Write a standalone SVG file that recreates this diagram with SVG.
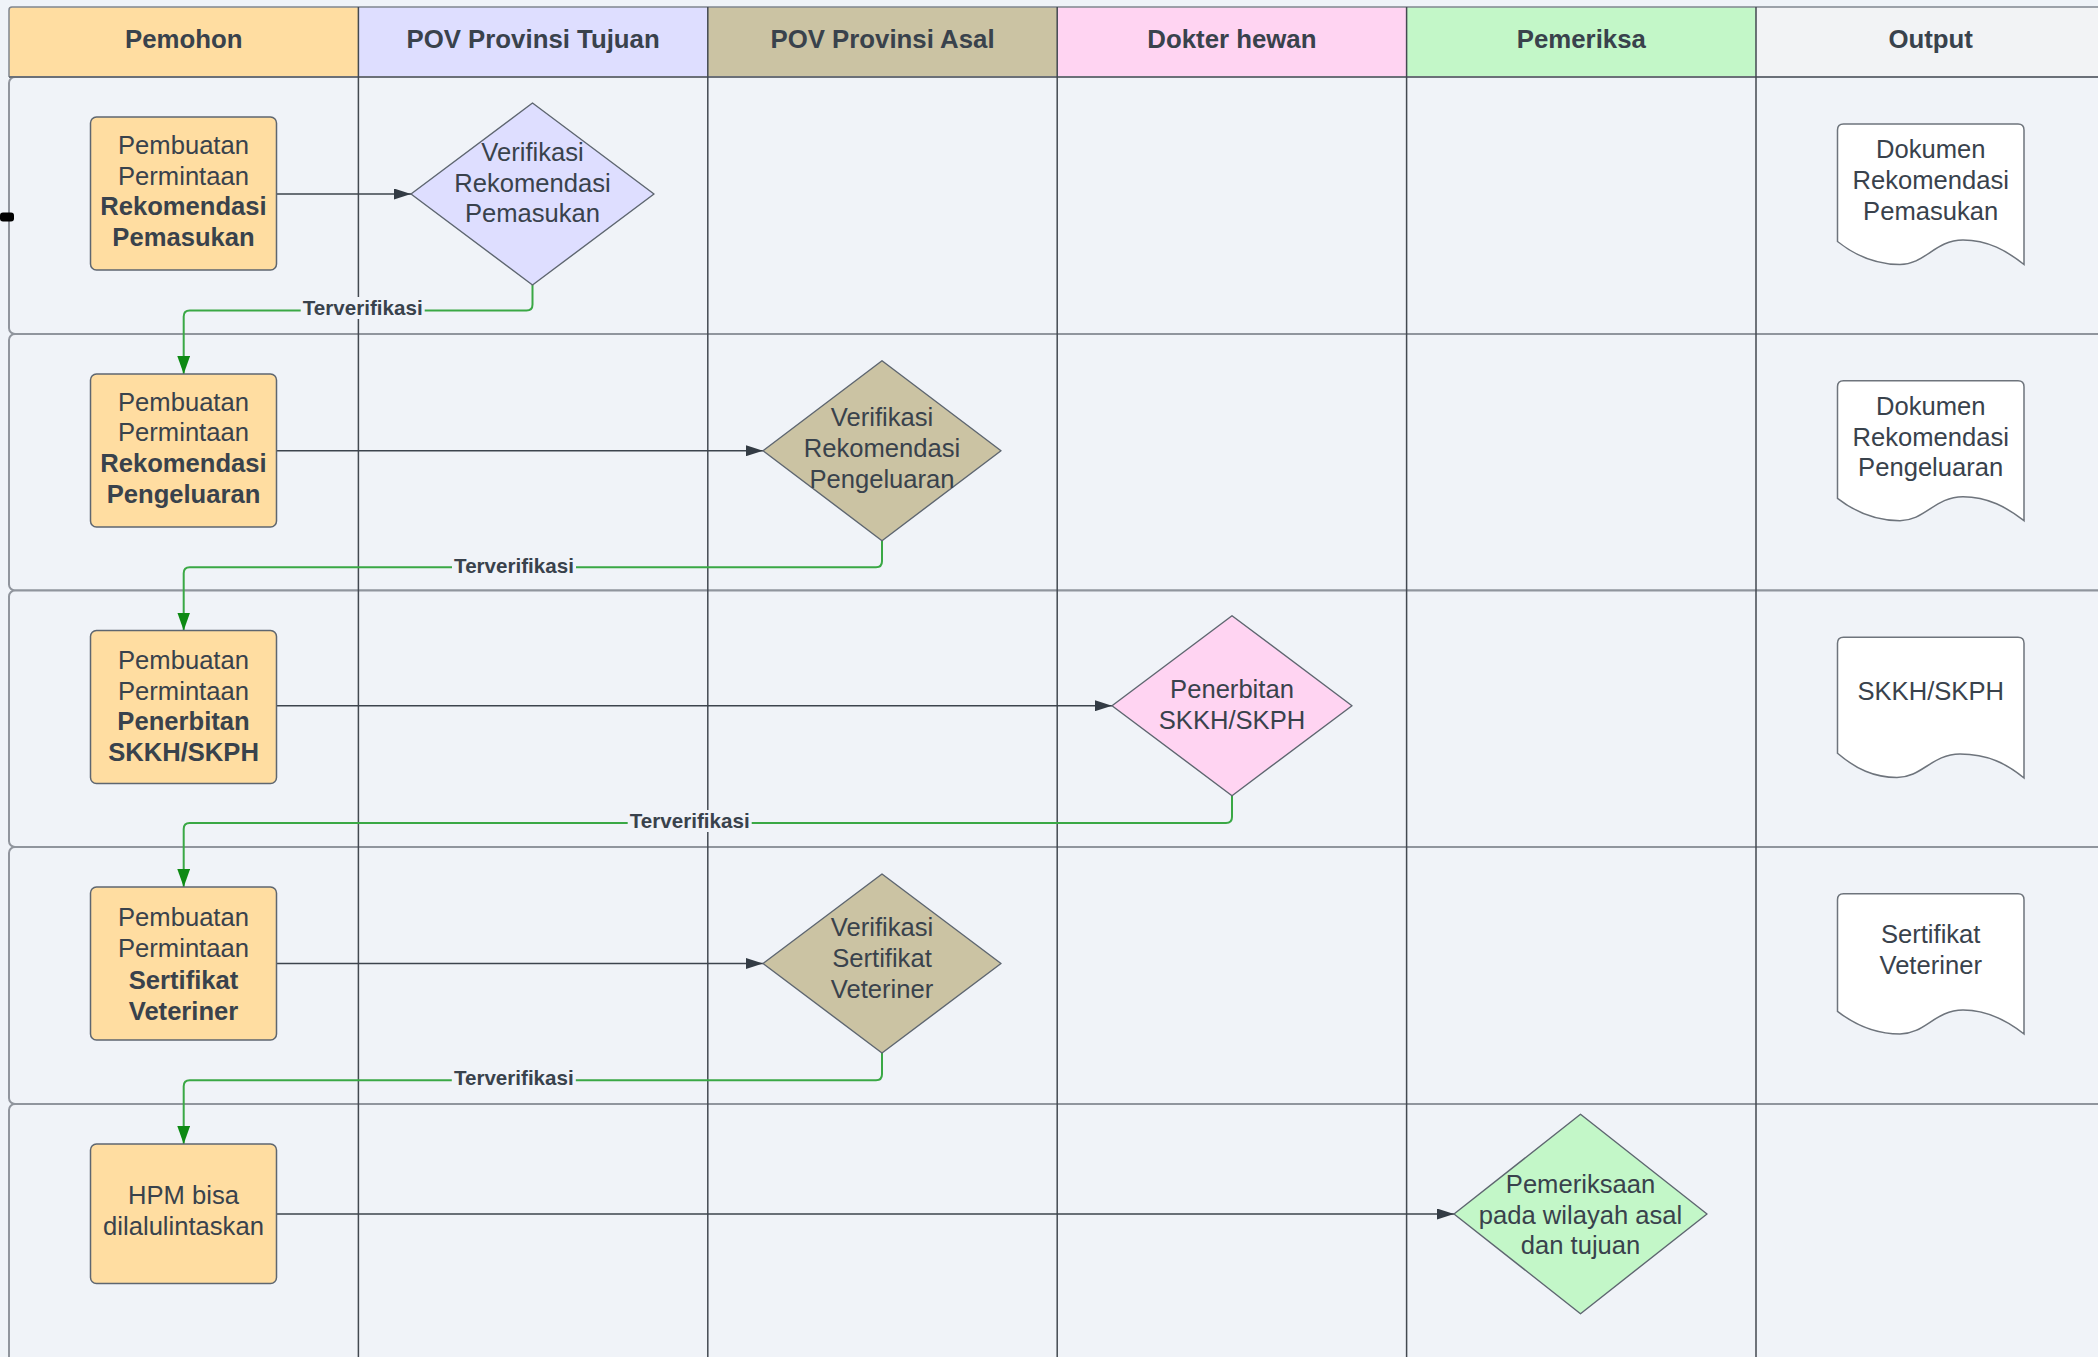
<svg xmlns="http://www.w3.org/2000/svg" width="2098" height="1357" viewBox="0 0 2098 1357">
<style>
  text { font-family: "Liberation Sans", Arial, sans-serif; fill: #39424C; text-anchor: middle; }
  .hdr { font-size: 25.8px; font-weight: bold; }
  .t { font-size: 25.6px; }
  .b { font-weight: bold; }
  .lbl { font-size: 20.6px; font-weight: bold; }
  .lane { fill: #F0F3F8; stroke: #90959D; stroke-width: 2; }
  .div { stroke: #434951; stroke-width: 1.5; fill: none; }
  .proc { fill: #FFDDA1; stroke: #5E6670; stroke-width: 1.5; }
  .dia { stroke: #5E6670; stroke-width: 1.4; stroke-linejoin: round; }
  .doc { fill: #FFFFFF; stroke: #6E747C; stroke-width: 1.5; }
  .flow { stroke: #3D444D; stroke-width: 1.4; fill: none; }
  .ok { stroke: #3AA845; stroke-width: 2; fill: none; }
  .lblbg { fill: #F0F3F8; }
</style>
<defs>
  <marker id="arrDark" markerUnits="userSpaceOnUse" markerWidth="17" markerHeight="11" refX="17" refY="5.5" orient="auto">
    <path d="M0,0 L17,5.5 L0,11 z" fill="#333B44"/>
  </marker>
  <marker id="arrGreen" markerUnits="userSpaceOnUse" markerWidth="18" markerHeight="13" refX="18" refY="6.4" orient="auto">
    <path d="M0,0 L18,6.4 L0,12.8 z" fill="#0E8A14"/>
  </marker>
</defs>

<rect x="0" y="0" width="2098" height="1357" fill="#EFF3F8"/>

<g id="lanes">
  <rect class="lane" x="9" y="77" width="2200" height="257" rx="6"/>
  <rect class="lane" x="9" y="334" width="2200" height="256.5" rx="6"/>
  <rect class="lane" x="9" y="590.5" width="2200" height="256.5" rx="6"/>
  <rect class="lane" x="9" y="847" width="2200" height="257" rx="6"/>
  <rect class="lane" x="9" y="1104" width="2200" height="300" rx="6"/>
</g>

<g id="header">
  <rect x="9" y="7" width="349.4" height="70" fill="#FFDDA1"/>
  <rect x="358.4" y="7" width="349.4" height="70" fill="#DEDEFF"/>
  <rect x="707.8" y="7" width="349.4" height="70" fill="#CBC3A3"/>
  <rect x="1057.2" y="7" width="349.4" height="70" fill="#FFD4F2"/>
  <rect x="1406.6" y="7" width="349.4" height="70" fill="#C3F7C8"/>
  <rect x="1756" y="7" width="360" height="70" fill="#F2F3F5"/>
  <path d="M9,77 V10 Q9,7 12,7 H2098" fill="none" stroke="#80868E" stroke-width="1.5"/>
  <line x1="9" y1="77" x2="2098" y2="77" stroke="#6B7078" stroke-width="2"/>
  <text class="hdr" x="183.7" y="48">Pemohon</text>
  <text class="hdr" x="533.1" y="48">POV Provinsi Tujuan</text>
  <text class="hdr" x="882.5" y="48">POV Provinsi Asal</text>
  <text class="hdr" x="1231.9" y="48">Dokter hewan</text>
  <text class="hdr" x="1581.3" y="48">Pemeriksa</text>
  <text class="hdr" x="1930.7" y="48">Output</text>
</g>

<g id="dividers">
  <line class="div" x1="358.4" y1="7" x2="358.4" y2="1357"/>
  <line class="div" x1="707.8" y1="7" x2="707.8" y2="1357"/>
  <line class="div" x1="1057.2" y1="7" x2="1057.2" y2="1357"/>
  <line class="div" x1="1406.6" y1="7" x2="1406.6" y2="1357"/>
  <line class="div" x1="1756" y1="7" x2="1756" y2="1357"/>
</g>

<rect x="0" y="212.5" width="14" height="9" rx="3" fill="#000000"/>

<g id="connectors">
  <line class="flow" x1="276.5" y1="194" x2="411" y2="194" marker-end="url(#arrDark)"/>
  <line class="flow" x1="276.5" y1="450.7" x2="763" y2="450.7" marker-end="url(#arrDark)"/>
  <line class="flow" x1="276.5" y1="705.7" x2="1112" y2="705.7" marker-end="url(#arrDark)"/>
  <line class="flow" x1="276.5" y1="963.5" x2="763" y2="963.5" marker-end="url(#arrDark)"/>
  <line class="flow" x1="276.5" y1="1214" x2="1454" y2="1214" marker-end="url(#arrDark)"/>

  <path class="ok" d="M532.5,285 V304.5 Q532.5,310.5 526.5,310.5 H189.7 Q183.7,310.5 183.7,316.5 V374" marker-end="url(#arrGreen)"/>
  <path class="ok" d="M882,540.7 V561.3 Q882,567.3 876,567.3 H189.7 Q183.7,567.3 183.7,573.3 V630.5" marker-end="url(#arrGreen)"/>
  <path class="ok" d="M1232,795.7 V817 Q1232,823 1226,823 H189.7 Q183.7,823 183.7,829 V887" marker-end="url(#arrGreen)"/>
  <path class="ok" d="M882,1053 V1074.3 Q882,1080.3 876,1080.3 H189.7 Q183.7,1080.3 183.7,1086.3 V1144" marker-end="url(#arrGreen)"/>

  <rect class="lblbg" x="300.7" y="297" width="124" height="22"/>
  <text class="lbl" x="362.7" y="315">Terverifikasi</text>
  <rect class="lblbg" x="452" y="554.5" width="124" height="22"/>
  <text class="lbl" x="514" y="572.8">Terverifikasi</text>
  <rect class="lblbg" x="627.7" y="810" width="124" height="22"/>
  <text class="lbl" x="689.7" y="828.3">Terverifikasi</text>
  <rect class="lblbg" x="451.8" y="1067" width="124" height="22"/>
  <text class="lbl" x="513.8" y="1085">Terverifikasi</text>
</g>

<g id="p1">
  <rect class="proc" x="90.5" y="117" width="186" height="153" rx="6"/>
  <text class="t" x="183.5" y="154">Pembuatan</text>
  <text class="t" x="183.5" y="184.5">Permintaan</text>
  <text class="t b" x="183.5" y="215">Rekomendasi</text>
  <text class="t b" x="183.5" y="245.5">Pemasukan</text>
</g>
<g id="d1">
  <polygon class="dia" fill="#DEDEFF" points="532.5,103 654,194 532.5,285 411,194"/>
  <text class="t" x="532.5" y="160.8">Verifikasi</text>
  <text class="t" x="532.5" y="191.8">Rekomendasi</text>
  <text class="t" x="532.5" y="222.4">Pemasukan</text>
</g>
<g id="o1">
  <path class="doc" d="M1837.5,130 Q1837.5,124 1843.5,124 H2018 Q2024,124 2024,130 V264.5 C2007,251 1988,240 1963,240 C1935,240 1925,264.5 1900,264.5 C1877,264.5 1857,257 1837.5,241.5 Z"/>
  <text class="t" x="1930.7" y="158">Dokumen</text>
  <text class="t" x="1930.7" y="189">Rekomendasi</text>
  <text class="t" x="1930.7" y="219.5">Pemasukan</text>
</g>

<g id="p2">
  <rect class="proc" x="90.5" y="374" width="186" height="153" rx="6"/>
  <text class="t" x="183.5" y="410.5">Pembuatan</text>
  <text class="t" x="183.5" y="441">Permintaan</text>
  <text class="t b" x="183.5" y="472">Rekomendasi</text>
  <text class="t b" x="183.5" y="502.5">Pengeluaran</text>
</g>
<g id="d2">
  <polygon class="dia" fill="#CBC3A3" points="882,360.7 1001,450.7 882,540.7 763,450.7"/>
  <text class="t" x="882" y="425.8">Verifikasi</text>
  <text class="t" x="882" y="457">Rekomendasi</text>
  <text class="t" x="882" y="488">Pengeluaran</text>
</g>
<g id="o2">
  <path class="doc" d="M1837.5,386.7 Q1837.5,380.7 1843.5,380.7 H2018 Q2024,380.7 2024,386.7 V520.7 C2007,507.5 1988,496.7 1963,496.7 C1935,496.7 1925,520.7 1900,520.7 C1877,520.7 1857,513.5 1837.5,498.3 Z"/>
  <text class="t" x="1930.7" y="415">Dokumen</text>
  <text class="t" x="1930.7" y="445.7">Rekomendasi</text>
  <text class="t" x="1930.7" y="476">Pengeluaran</text>
</g>

<g id="p3">
  <rect class="proc" x="90.5" y="630.5" width="186" height="153" rx="6"/>
  <text class="t" x="183.5" y="669">Pembuatan</text>
  <text class="t" x="183.5" y="699.5">Permintaan</text>
  <text class="t b" x="183.5" y="730">Penerbitan</text>
  <text class="t b" x="183.5" y="760.5">SKKH/SKPH</text>
</g>
<g id="d3">
  <polygon class="dia" fill="#FFD4F2" points="1232,615.7 1352,705.7 1232,795.7 1112,705.7"/>
  <text class="t" x="1232" y="698.4">Penerbitan</text>
  <text class="t" x="1232" y="729.1">SKKH/SKPH</text>
</g>
<g id="o3">
  <path class="doc" d="M1837.5,643.3 Q1837.5,637.3 1843.5,637.3 H2018 Q2024,637.3 2024,643.3 V778 C2007,764 1988,754 1960,754 C1932,754 1922,777.5 1897,777.5 C1874,777.5 1856,769 1837.5,753.3 Z"/>
  <text class="t" x="1930.7" y="700">SKKH/SKPH</text>
</g>

<g id="p4">
  <rect class="proc" x="90.5" y="887" width="186" height="153" rx="6"/>
  <text class="t" x="183.5" y="926.4">Pembuatan</text>
  <text class="t" x="183.5" y="957.4">Permintaan</text>
  <text class="t b" x="183.5" y="988.6">Sertifikat</text>
  <text class="t b" x="183.5" y="1019.5">Veteriner</text>
</g>
<g id="d4">
  <polygon class="dia" fill="#CBC3A3" points="882,874 1001,963.5 882,1053 763,963.5"/>
  <text class="t" x="882" y="935.8">Verifikasi</text>
  <text class="t" x="882" y="967.4">Sertifikat</text>
  <text class="t" x="882" y="998.2">Veteriner</text>
</g>
<g id="o4">
  <path class="doc" d="M1837.5,899.8 Q1837.5,893.8 1843.5,893.8 H2018 Q2024,893.8 2024,899.8 V1034 C2007,1020.5 1988,1010 1963,1010 C1935,1010 1925,1034 1900,1034 C1877,1034 1857,1026.5 1837.5,1011.3 Z"/>
  <text class="t" x="1930.7" y="943">Sertifikat</text>
  <text class="t" x="1930.7" y="973.8">Veteriner</text>
</g>

<g id="p5">
  <rect class="proc" x="90.5" y="1144" width="186" height="139.5" rx="6"/>
  <text class="t" x="183.5" y="1204">HPM bisa</text>
  <text class="t" x="183.5" y="1235">dilalulintaskan</text>
</g>
<g id="d5">
  <polygon class="dia" fill="#C3F7C8" points="1580.5,1114.3 1707,1214 1580.5,1313.7 1454,1214"/>
  <text class="t" x="1580.5" y="1193">Pemeriksaan</text>
  <text class="t" x="1580.5" y="1224">pada wilayah asal</text>
  <text class="t" x="1580.5" y="1254">dan tujuan</text>
</g>
</svg>
